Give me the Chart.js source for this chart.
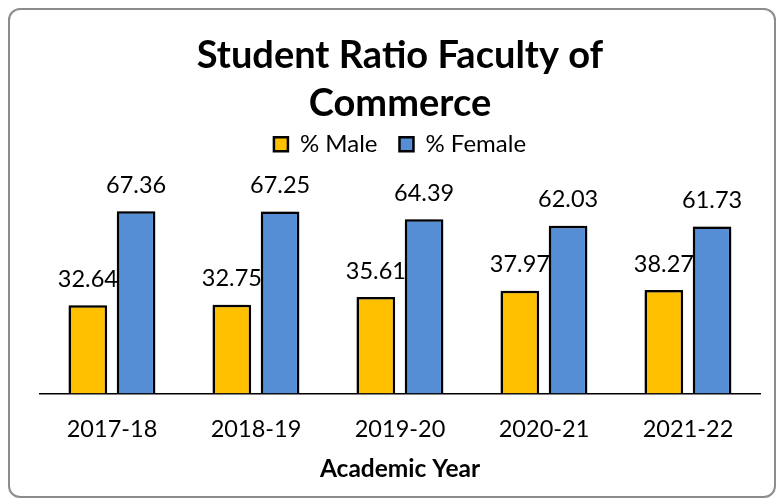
<!DOCTYPE html>
<html>
<head>
<meta charset="utf-8">
<script src="https://cdn.jsdelivr.net/npm/chart.js@4"></script>
<style>
  body { margin: 0; background: #fff; }
  #box {
    position: absolute; left: 8px; top: 8px; width: 764px; height: 486px;
    border: 2px solid #8c8c8c; border-radius: 12px; background: #fff;
  }
  #wrap { position: absolute; left: 0; top: 0; width: 782px; height: 504px; }
</style>
</head>
<body>
<div id="box"></div>
<div id="wrap"><canvas id="myChart" width="782" height="504"></canvas></div>
<script>
// chart values
const YEARS = ["2017-18", "2018-19", "2019-20", "2020-21", "2021-22"]
const MALE = [32.64, 32.75, 35.61, 37.97, 38.27]
const FEMALE = [67.36, 67.25, 64.39, 62.03, 61.73]

const FONT = "Lato, 'Open Sans', sans-serif"

// draws the numbers over each bar
const barLabels = {
  id: "barLabels",
  afterDatasetsDraw(chart) {
    const ctx = chart.ctx
    ctx.save()
    ctx.font = "23.5px " + FONT
    ctx.fillStyle = "#000"
    ctx.textAlign = "center"
    ctx.textBaseline = "middle"
    chart.data.datasets.forEach((ds, i) => {
      chart.getDatasetMeta(i).data.forEach((bar, j) => {
        ctx.fillText(ds.data[j].toFixed(2), bar.x, bar.y - 26)
      })
    })
    ctx.restore()
  }
}

// soft shadow behind the bars
const barShadow = {
  id: "barShadow",
  beforeDatasetsDraw(chart) {
    const ctx = chart.ctx
    ctx.save()
    ctx.shadowColor = "rgba(0,0,0,0.45)"
    ctx.shadowBlur = 6
    ctx.shadowOffsetX = -4
    ctx.shadowOffsetY = 0
  },
  afterDatasetsDraw(chart) {
    chart.ctx.restore()
  }
}

new Chart(document.getElementById("myChart"), {
  type: "bar",
  data: {
    labels: YEARS,
    datasets: [
      { label: "% Male", data: MALE, backgroundColor: "#FFC000", borderColor: "#000", borderWidth: 2.5 },
      { label: "% Female", data: FEMALE, backgroundColor: "#558ED5", borderColor: "#000", borderWidth: 2.5 }
    ]
  },
  options: {
    responsive: false,
    animation: false,
    layout: { padding: { left: 40, right: 22, top: 31, bottom: 20 } },
    datasets: { bar: { categoryPercentage: 0.67, barPercentage: 0.8 } },
    plugins: {
      title: {
        display: true,
        text: ["Student Ratio Faculty of", "Commerce"],
        color: "#000",
        font: { family: FONT, size: 38, weight: "bold", lineHeight: 1.28 },
        padding: { top: 0, bottom: -18 }
      },
      legend: {
        labels: {
          color: "#000",
          font: { family: FONT, size: 24 },
          boxWidth: 14, boxHeight: 14,
          padding: 22
        }
      },
      tooltip: { enabled: false }
    },
    scales: {
      x: {
        grid: { display: false, drawTicks: false },
        border: { color: "#000", width: 1.5 },
        ticks: { color: "#000", font: { family: FONT, size: 23.5 }, padding: 22 },
        title: { display: true, text: "Academic Year", color: "#000", font: { family: FONT, size: 24.5, weight: "bold" }, padding: { top: -11, bottom: 0 } }
      },
      y: { display: false, min: 0, max: 84 }
    }
  },
  plugins: [barShadow, barLabels]
})
</script>
</body>
</html>
